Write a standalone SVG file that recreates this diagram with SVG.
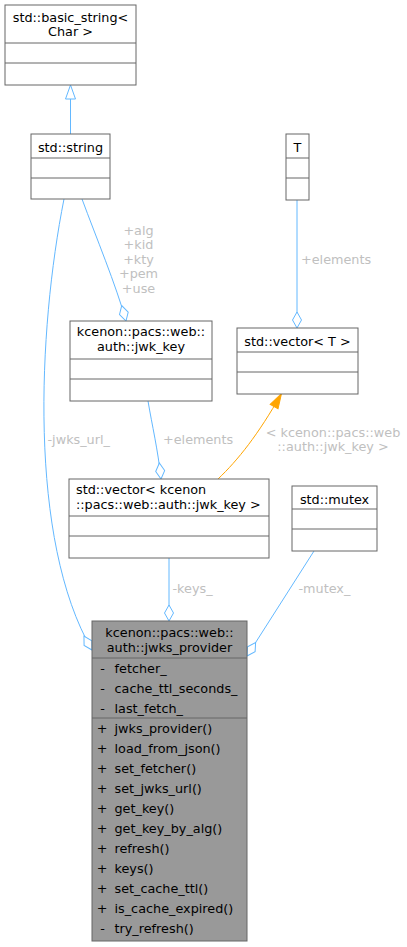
<svg xmlns="http://www.w3.org/2000/svg" width="407" height="947" viewBox="0 0 407 947">
<style>
text{font-family:"DejaVu Sans","Liberation Sans",sans-serif;font-size:12.8px;fill:#000}
.box{fill:#fff;stroke:#666;stroke-width:1}
.main{fill:#999;stroke:#666;stroke-width:1}
.div{stroke:#666;stroke-width:1}
.c{text-anchor:middle}
.e{fill:none;stroke:#63b8ff;stroke-width:1}
.o{fill:none;stroke:#ffa500;stroke-width:1}
.lbl{fill:#c0c0c0}
</style>
<defs>
<marker id="dia" markerUnits="userSpaceOnUse" viewBox="-17 -6 18 12" markerWidth="18" markerHeight="12" refX="0" refY="0" orient="auto">
<path d="M0,0 L-8,-4.5 L-16,0 L-8,4.5 Z" fill="#fff" stroke="#63b8ff" stroke-width="1"/>
</marker>
<marker id="tri" markerUnits="userSpaceOnUse" viewBox="-15 -6 16 12" markerWidth="16" markerHeight="12" refX="0" refY="0" orient="auto">
<path d="M0,0 L-14,-5 L-14,5 Z" fill="#fff" stroke="#63b8ff" stroke-width="1"/>
</marker>
<marker id="arr" markerUnits="userSpaceOnUse" viewBox="-16 -6 17 12" markerWidth="17" markerHeight="12" refX="0" refY="0" orient="auto">
<path d="M0,0 L-15,-4.5 L-15,4.5 Z" fill="#ffa500" stroke="#ffa500" stroke-width="1"/>
</marker>
</defs>

<g id="connectors">
<path class="e" d="M70.5,134 L70.5,85" marker-end="url(#tri)"/>
<path class="e" d="M64,199 C38,330 28,540 92,650" marker-end="url(#dia)"/>
<path class="e" d="M82,199 C96,237 116,285 126,321" marker-end="url(#dia)"/>
<path class="e" d="M297,200 L297,328" marker-end="url(#dia)"/>
<path class="e" d="M148,401 C152,425 158,450 161,479" marker-end="url(#dia)"/>
<path class="o" d="M218,479 C238,460 258,435 281.5,393.5" marker-end="url(#arr)"/>
<path class="e" d="M169,558 L169,621" marker-end="url(#dia)"/>
<path class="e" d="M314,551 L247,656" marker-end="url(#dia)"/>
<text class="lbl c" x="138.5" y="234.5">+alg</text>
<text class="lbl c" x="138.5" y="249">+kid</text>
<text class="lbl c" x="138.5" y="263.5">+kty</text>
<text class="lbl c" x="138.5" y="278">+pem</text>
<text class="lbl c" x="138.5" y="292.5">+use</text>
<text class="lbl" x="301" y="264">+elements</text>
<text class="lbl" x="163" y="443.5">+elements</text>
<text class="lbl" x="47.5" y="443.5">-jwks_url_</text>
<text class="lbl c" x="333" y="436.5">&lt; kcenon::pacs::web</text>
<text class="lbl c" x="333" y="450.5">::auth::jwk_key &gt;</text>
<text class="lbl" x="172.5" y="593">-keys_</text>
<text class="lbl" x="298.5" y="593">-mutex_</text>
</g>

<g id="basic_string">
<rect class="box" x="5" y="5" width="131" height="80"/>
<line class="div" x1="5" y1="43" x2="136" y2="43"/>
<line class="div" x1="5" y1="63" x2="136" y2="63"/>
<text class="c" x="70.5" y="21.5">std::basic_string&lt;</text>
<text class="c" x="70.5" y="36">Char &gt;</text>
</g>

<g id="std_string">
<rect class="box" x="31" y="134" width="79" height="65"/>
<line class="div" x1="31" y1="158" x2="110" y2="158"/>
<line class="div" x1="31" y1="178" x2="110" y2="178"/>
<text class="c" x="70.5" y="151.5">std::string</text>
</g>

<g id="T">
<rect class="box" x="286" y="134" width="23" height="66"/>
<line class="div" x1="286" y1="158" x2="309" y2="158"/>
<line class="div" x1="286" y1="178" x2="309" y2="178"/>
<text class="c" x="297.5" y="151.5">T</text>
</g>

<g id="jwk_key">
<rect class="box" x="70" y="321" width="142" height="80"/>
<line class="div" x1="70" y1="359" x2="212" y2="359"/>
<line class="div" x1="70" y1="379" x2="212" y2="379"/>
<text class="c" x="141" y="336">kcenon::pacs::web::</text>
<text class="c" x="141" y="351">auth::jwk_key</text>
</g>

<g id="vector_T">
<rect class="box" x="237" y="328" width="121" height="66"/>
<line class="div" x1="237" y1="352" x2="358" y2="352"/>
<line class="div" x1="237" y1="372" x2="358" y2="372"/>
<text class="c" x="297.5" y="345.5">std::vector&lt; T &gt;</text>
</g>

<g id="vector_jwk_key">
<rect class="box" x="69" y="479" width="200" height="79"/>
<line class="div" x1="69" y1="516" x2="269" y2="516"/>
<line class="div" x1="69" y1="536" x2="269" y2="536"/>
<text x="76" y="494">std::vector&lt; kcenon</text>
<text x="76" y="509">::pacs::web::auth::jwk_key &gt;</text>
</g>

<g id="mutex">
<rect class="box" x="292" y="486" width="85" height="65"/>
<line class="div" x1="292" y1="509" x2="377" y2="509"/>
<line class="div" x1="292" y1="529" x2="377" y2="529"/>
<text class="c" x="334.5" y="503.5">std::mutex</text>
</g>

<g id="jwks_provider">
<rect class="main" x="92" y="621" width="155" height="320"/>
<line class="div" x1="92" y1="658" x2="247" y2="658"/>
<line class="div" x1="92" y1="718" x2="247" y2="718"/>
<text class="c" x="169.5" y="637">kcenon::pacs::web::</text>
<text class="c" x="169.5" y="651.5">auth::jwks_provider</text>
<g class="c">
<text class="c" x="102.5" y="672.5">-</text>
<text class="c" x="102.5" y="692.5">-</text>
<text class="c" x="102.5" y="712.5">-</text>
<text class="c" x="102" y="732.5">+</text>
<text class="c" x="102" y="752.5">+</text>
<text class="c" x="102" y="772.5">+</text>
<text class="c" x="102" y="792.5">+</text>
<text class="c" x="102" y="812.5">+</text>
<text class="c" x="102" y="832.5">+</text>
<text class="c" x="102" y="852.5">+</text>
<text class="c" x="102" y="872.5">+</text>
<text class="c" x="102" y="892.5">+</text>
<text class="c" x="102" y="912.5">+</text>
<text class="c" x="102.5" y="932.5">-</text>
</g>
<text x="114.5" y="672.5">fetcher_</text>
<text x="114.5" y="692.5">cache_ttl_seconds_</text>
<text x="114.5" y="712.5">last_fetch_</text>
<text x="114.5" y="732.5">jwks_provider()</text>
<text x="114.5" y="752.5">load_from_json()</text>
<text x="114.5" y="772.5">set_fetcher()</text>
<text x="114.5" y="792.5">set_jwks_url()</text>
<text x="114.5" y="812.5">get_key()</text>
<text x="114.5" y="832.5">get_key_by_alg()</text>
<text x="114.5" y="852.5">refresh()</text>
<text x="114.5" y="872.5">keys()</text>
<text x="114.5" y="892.5">set_cache_ttl()</text>
<text x="114.5" y="912.5">is_cache_expired()</text>
<text x="114.5" y="932.5">try_refresh()</text>
</g>
</svg>
